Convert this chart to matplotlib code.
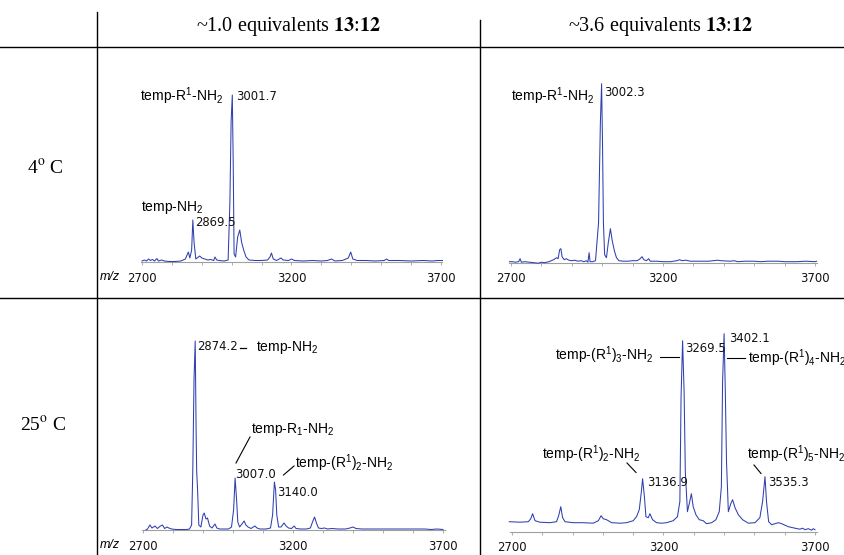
import matplotlib
matplotlib.use('Agg')
import matplotlib.pyplot as plt
from matplotlib.transforms import Affine2D
from matplotlib.lines import Line2D

# ---------------- data (m/z, intensity in arbitrary units) ----------------
tl_mz = [2700, 2708, 2715, 2722, 2728, 2735, 2742, 2750, 2755, 2765, 2775, 2790, 2810, 2830,
         2845, 2855, 2860, 2866, 2870, 2874, 2880, 2893, 2900, 2910, 2920, 2930, 2940, 2944,
         2950, 2958, 2975, 2988, 2994, 2998, 3002, 3005, 3008, 3013, 3020, 3027, 3033, 3040,
         3048, 3058, 3080, 3100, 3120, 3128, 3133, 3139, 3150, 3165, 3172, 3190, 3200, 3210,
         3240, 3270, 3300, 3320, 3334, 3345, 3370, 3390, 3398, 3405, 3420, 3450, 3480, 3510,
         3518, 3525, 3560, 3600, 3640, 3670, 3690, 3705]
tl_int = [1, 2, 1, 3, 1.5, 2.5, 1, 3.5, 1, 2, 1, 0.5, 0.5, 1,
          3, 10, 4, 12, 42, 20, 3, 6, 4, 3, 2, 2.5, 1.5, 5,
          2, 1.5, 1, 2, 60, 140, 167, 100, 8, 5, 25, 32, 20, 12,
          5, 2, 1.5, 1.5, 2, 5, 9, 3, 1.5, 4, 2, 1.5, 3, 1.5,
          1, 1.5, 1, 1.5, 3, 1, 1.5, 4, 10, 3, 1.5, 1.5, 1, 1.5,
          3, 1.5, 1.5, 1, 1.5, 1, 1.5, 1.5]

tr_mz = [2695, 2705, 2715, 2725, 2730, 2734, 2745, 2760, 2775, 2790, 2800, 2810, 2825, 2840,
         2850, 2855, 2860, 2864, 2868, 2875, 2882, 2890, 2900, 2910, 2920, 2930, 2940, 2948,
         2953, 2957, 2960, 2968, 2978, 2988, 2994, 2998, 3001, 3004, 3008, 3014, 3020, 3027,
         3033, 3040, 3047, 3055, 3070, 3085, 3100, 3115, 3125, 3131, 3137, 3145, 3153, 3158,
         3180, 3200, 3225, 3245, 3255, 3262, 3275, 3290, 3320, 3350, 3380, 3390, 3420, 3435,
         3445, 3470, 3500, 3520, 3545, 3580, 3600, 3640, 3670, 3700, 3705]
tr_int = [1, 1, 0.5, 1, 4, 0.5, 1, 0.5, 0, -0.5, 0.5, 0, 1, 3,
          5, 4, 13, 14, 6, 3, 4, 2.5, 2, 2.5, 1.5, 2, 1, 2,
          0.5, 10, 1, 1, 2, 40, 140, 179, 120, 40, 8, 5, 20, 34,
          22, 12, 5, 2, 1.5, 1.5, 2, 2, 4, 6, 3, 2, 4, 1.5,
          1.5, 1, 1, 2, 3, 2, 2.5, 1.5, 1.5, 1.5, 2.5, 2, 1.5, 2,
          1, 1.5, 1.5, 1, 1.5, 1.5, 1, 1, 1.5, 1, 1.5]

bl_mz = [2710, 2715, 2723, 2730, 2740, 2748, 2758, 2765, 2772, 2780, 2786, 2795, 2810, 2830,
         2845, 2855, 2862, 2866, 2870, 2874, 2877, 2879, 2882, 2886, 2893, 2900, 2904, 2910,
         2915, 2922, 2930, 2940, 2946, 2955, 2970, 2985, 2995, 3002, 3007, 3012, 3016, 3022,
         3030, 3037, 3043, 3050, 3060, 3073, 3080, 3090, 3110, 3125, 3132, 3138, 3142, 3146,
         3152, 3160, 3170, 3177, 3185, 3195, 3204, 3210, 3225, 3245, 3258, 3265, 3272, 3278,
         3285, 3295, 3305, 3315, 3330, 3350, 3375, 3390, 3400, 3410, 3430, 3460, 3500, 3550,
         3600, 3640, 3660, 3680, 3700]
bl_int = [0, 1, 5, 2, 4, 1.5, 4, 5, 1.5, 3, 2, 1, 0.5, 0.5,
          0.5, 1, 5, 60, 150, 189, 100, 58, 40, 5, 3, 15, 17, 11,
          12, 4, 2, 6, 2, 1, 1, 1, 3, 20, 52, 30, 8, 3,
          6, 9, 5, 3, 1.5, 4, 2, 1, 1, 2, 15, 48, 40, 15,
          3, 3, 7, 4, 2, 1.5, 4, 1.5, 1, 1, 2, 8, 13, 7,
          2, 1.5, 2, 1, 1.5, 1, 1, 2, 3, 1.5, 1, 1, 1, 1,
          1, 1, 0.5, 1, 0.5]

br_mz = [2691, 2726, 2754, 2762, 2768, 2776, 2792, 2825, 2847, 2854, 2861, 2867, 2875, 2902,
         2935, 2968, 2985, 2994, 3001, 3012, 3029, 3056, 3078, 3100, 3111, 3120, 3127, 3131,
         3137, 3142, 3150, 3155, 3164, 3177, 3194, 3210, 3232, 3246, 3254, 3258, 3263, 3268,
         3272, 3279, 3285, 3292, 3298, 3307, 3318, 3331, 3342, 3359, 3373, 3384, 3391, 3395,
         3400, 3404, 3408, 3414, 3422, 3428, 3436, 3447, 3461, 3480, 3502, 3518, 3527, 3535,
         3540, 3547, 3557, 3568, 3579, 3590, 3612, 3634, 3650, 3659, 3667, 3678, 3689, 3694, 3700]
br_int = [10, 9.5, 10, 13, 18, 11, 9.5, 9, 10, 16, 25, 14, 10, 9,
          9, 8.5, 11, 16, 13, 12, 9, 8.5, 9, 11, 15, 22, 40, 53,
          35, 15, 14, 18, 12, 9, 8.5, 9, 11, 15, 30, 135, 191, 140,
          60, 20, 28, 38, 25, 17, 12, 11, 8, 9, 12, 20, 45, 150,
          198, 140, 70, 20, 28, 32, 24, 17, 12, 8.5, 9, 14, 30, 55,
          30, 10, 7, 8, 9, 8, 5, 3.5, 2.5, 3.5, 2, 3, 1.5, 3, 2]

tick_labels = [2700, 3200, 3700]
col_headers = [r'~1.0 equivalents $\mathbf{13}$:$\mathbf{12}$',
               r'~3.6 equivalents $\mathbf{13}$:$\mathbf{12}$']
row_headers = [r'4$^{\mathrm{o}}$ C', r'25$^{\mathrm{o}}$ C']

# ---------------- figure ----------------
plt.rcParams['mathtext.fontset'] = 'custom'
plt.rcParams['mathtext.rm'] = 'Liberation Sans'
plt.rcParams['mathtext.it'] = 'Liberation Sans:italic'
plt.rcParams['mathtext.bf'] = 'Liberation Sans:bold'

W, H = 845, 555
fig = plt.figure(figsize=(W / 100, H / 100), dpi=100)
pix = Affine2D().scale(1 / W, -1 / H).translate(0, 1) + fig.transFigure

BLUE = '#2f3fae'
AXC = '#a0a0a0'


def add_spec(x2700, x3700, yaxis, hpx, mz, inten, show_mz):
    ppu = (x3700 - x2700) / 1000.0
    lo, hi = 2685, 3715
    left = x2700 + (lo - 2700) * ppu
    right = x2700 + (hi - 2700) * ppu
    ax = fig.add_axes([left / W, (H - yaxis) / H, (right - left) / W, hpx / H])
    ax.set_xlim(lo, hi)
    ax.set_ylim(0, hpx)
    ax.plot(mz, inten, color=BLUE, lw=0.75, clip_on=False, zorder=3)
    for s in ['top', 'right', 'left']:
        ax.spines[s].set_visible(False)
    ax.spines['bottom'].set_bounds(2695, 3705)
    ax.spines['bottom'].set_color(AXC)
    ax.spines['bottom'].set_linewidth(0.8)
    ax.set_xticks(tick_labels)
    ax.set_xticklabels([str(t) for t in tick_labels])
    ax.set_xticks(range(2800, 3700, 100), minor=True)
    ax.tick_params(axis='x', which='both', direction='out', length=2.5, width=0.6,
                   color=AXC, labelsize=8.4, pad=4.5, labelcolor='#111111')
    ax.set_yticks([])
    ax.patch.set_visible(False)
    if show_mz:
        fig.text(100, yaxis + 15, 'm/z', transform=pix, ha='left', va='center',
                 fontsize=9, style='italic', family='Liberation Sans')
    return ax


add_spec(142, 441, 262, 180, tl_mz, tl_int, True)
add_spec(511, 815, 262.7, 182, tr_mz, tr_int, False)
add_spec(143, 443, 530, 195, bl_mz, bl_int, True)
add_spec(512, 815, 531.7, 205, br_mz, br_int, False)

# ---------------- table lines ----------------
def line(xs, ys, lw=1.0, color='black'):
    fig.add_artist(Line2D(xs, ys, transform=pix, color=color, lw=lw))

line([0, W], [47, 47])
line([0, W], [298, 298])
line([97, 97], [12, H])
line([480, 480], [20, H])

# headers
for xc, s in zip([289, 661], col_headers):
    fig.text(xc, 26, s, transform=pix, ha='center', va='center', fontsize=14.5,
             family='Liberation Serif', math_fontfamily='stix')
for (xc, yc), s in zip([(45, 168), (43, 425)], row_headers):
    fig.text(xc, yc, s, transform=pix, ha='center', va='center', fontsize=14,
             family='Liberation Serif', math_fontfamily='stix')

# ---------------- peak labels ----------------
def lab(x, y, s, ha='left'):
    fig.text(x, y, s, transform=pix, ha=ha, va='center', fontsize=10,
             family='Liberation Sans')


def num(x, y, s):
    fig.text(x, y, s, transform=pix, ha='left', va='center', fontsize=8.4,
             family='DejaVu Sans', color='#111111')


# top-left
lab(223, 96, r'temp-R$^{1}$-NH$_{2}$', ha='right')
num(236, 97, '3001.7')
lab(141, 207, r'temp-NH$_{2}$')
num(195, 223, '2869.5')
# top-right
lab(511, 96, r'temp-R$^{1}$-NH$_{2}$')
num(604, 92, '3002.3')
# bottom-left
num(197, 347, '2874.2')
line([240, 246], [347.5, 347.5], lw=0.9)
lab(256, 347, r'temp-NH$_{2}$')
lab(251, 430, r'temp-R$_{1}$-NH$_{2}$')
line([250, 236], [437, 463], lw=0.8)
num(235, 474, '3007.0')
lab(295, 463, r'temp-(R$^{1}$)$_{2}$-NH$_{2}$')
line([294, 283.5], [466, 475], lw=0.8)
num(277, 493, '3140.0')
# bottom-right
num(729, 339, '3402.1')
num(685, 348, '3269.5')
lab(653, 355, r'temp-(R$^{1}$)$_{3}$-NH$_{2}$', ha='right')
line([660, 679], [357, 357], lw=0.8)
line([727, 745], [357.5, 357.5], lw=0.8)
lab(748, 358, r'temp-(R$^{1}$)$_{4}$-NH$_{2}$')
lab(542, 454, r'temp-(R$^{1}$)$_{2}$-NH$_{2}$')
line([627, 636], [463, 472.5], lw=0.8)
num(647, 482, '3136.9')
lab(747, 454, r'temp-(R$^{1}$)$_{5}$-NH$_{2}$')
line([754, 761], [465, 473.5], lw=0.8)
num(768, 482, '3535.3')

fig.savefig('out.png', dpi=100)
